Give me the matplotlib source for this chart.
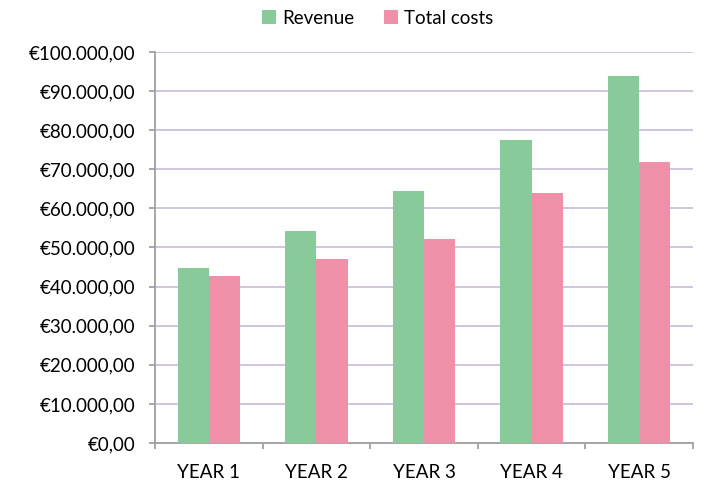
import numpy as np
import matplotlib.pyplot as plt
from matplotlib.ticker import FuncFormatter, FixedLocator

# Data
years = ['YEAR 1', 'YEAR 2', 'YEAR 3', 'YEAR 4', 'YEAR 5']
revenue = [44800, 54200, 64400, 77500, 93900]
total_costs = [42700, 47100, 52200, 63900, 71900]

plt.rcParams['font.family'] = ['Lato', 'DejaVu Sans']

fig = plt.figure(figsize=(7.02, 4.84), dpi=100)
ax = fig.add_axes([0.2208, 0.0847, 0.7662, 0.8079])

x = np.arange(len(years))
w = 0.29
ax.bar(x - w / 2, revenue, w, color='#88CA9A', label='Revenue', zorder=3)
ax.bar(x + w / 2, total_costs, w, color='#F090A8', label='Total costs', zorder=3)

ax.set_xlim(-0.5, len(years) - 0.5)
ax.set_ylim(0, 100000)
ax.set_yticks(np.arange(0, 100001, 10000))


def euro(v, pos):
    s = f"{v:,.2f}"
    s = s.replace(',', 'X').replace('.', ',').replace('X', '.')
    return '€' + s


ax.yaxis.set_major_formatter(FuncFormatter(euro))
ax.grid(axis='y', color='#CCC0DA', linewidth=1.3, zorder=0)

# labels at centers, tick marks at category boundaries
ax.set_xticks(x)
ax.set_xticklabels(years)
ax.xaxis.set_minor_locator(FixedLocator(np.arange(-0.5, len(years), 1.0)))
ax.tick_params(axis='x', which='major', length=0, pad=15, labelsize=13.5)
ax.tick_params(axis='x', which='minor', length=4, color='#A0A0A0', width=1.3)
ax.tick_params(axis='y', length=4, color='#A0A0A0', width=1.3, labelsize=13.5, pad=10)

for side in ['top', 'right']:
    ax.spines[side].set_visible(False)
for side in ['left', 'bottom']:
    ax.spines[side].set_color('#A0A0A0')
    ax.spines[side].set_linewidth(1.3)

fig.legend(loc='upper center', bbox_to_anchor=(0.538, 1.015), ncol=2, frameon=False,
           fontsize=13.5, handlelength=0.75, handleheight=0.75, handletextpad=0.3,
           columnspacing=1.6)

fig.savefig('out.png', dpi=100)
